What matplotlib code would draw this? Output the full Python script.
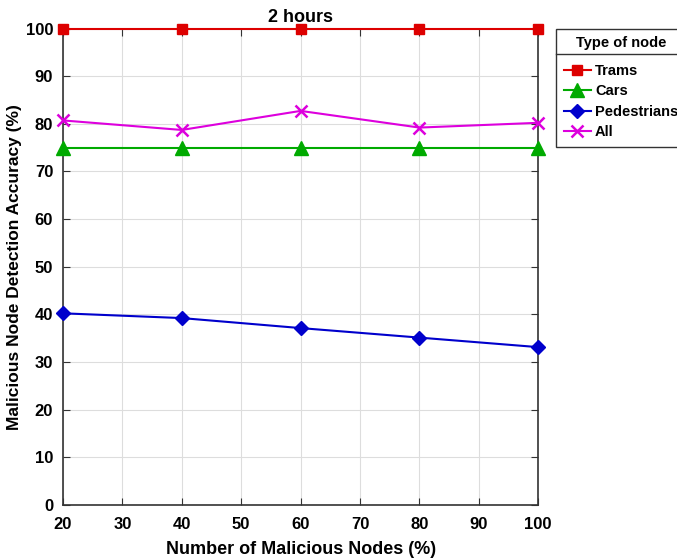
import numpy as np
from matplotlib import pyplot as plt
from matplotlib.lines import Line2D

plt.rcParams['font.family'] = ['Liberation Sans', 'DejaVu Sans']
plt.rcParams['font.weight'] = 'bold'

# data
malicious = [20, 40, 60, 80, 100]
trams = [100, 100, 100, 100, 100]
cars = [75, 75, 75, 75, 75]
pedestrians = [40.2, 39.2, 37.1, 35.1, 33.1]
all_nodes = [80.7, 78.7, 82.7, 79.2, 80.2]

fig = plt.figure(figsize=(6.77, 5.59), dpi=100)
ax = fig.add_axes([0.093, 0.097, 0.702, 0.852])

ax.plot(malicious, trams, '-s', color='#dd0000', lw=1.5, ms=7, label='Trams', clip_on=False, zorder=5)
ax.plot(malicious, cars, '-^', color='#00aa00', lw=1.5, ms=10, label='Cars', clip_on=False, zorder=4)
ax.plot(malicious, pedestrians, '-D', color='#0000cc', lw=1.5, ms=7, label='Pedestrians', clip_on=False, zorder=4)
ax.plot(malicious, all_nodes, '-x', color='#dd00dd', lw=1.5, ms=8, mew=1.8, label='All', clip_on=False, zorder=4)

ax.set_xlim(20, 100)
ax.set_ylim(0, 100)
ax.set_xticks(np.arange(20, 101, 10))
ax.set_yticks(np.arange(0, 101, 10))
ax.grid(True, color='#dddddd', lw=0.8)
ax.tick_params(direction='in', labelsize=12, top=True, right=True, length=5, color='#333333')
ax.tick_params(axis='x', pad=9)
ax.tick_params(axis='y', pad=7)
for s in ax.spines.values():
    s.set_linewidth(1.2)
    s.set_color('#333333')

ax.set_title('2 hours', fontsize=13, fontweight='bold', pad=5)
ax.set_xlabel('Number of Malicious Nodes (%)', fontsize=13, fontweight='bold', labelpad=6)
ax.set_ylabel('Malicious Node Detection Accuracy (%)', fontsize=12.5, fontweight='bold', labelpad=3)

leg = ax.legend(title='Type of node', loc='upper left', bbox_to_anchor=(1.038, 1.0),
                fontsize=10.5, title_fontsize=10.5, fancybox=False, edgecolor='#333333',
                framealpha=1, borderaxespad=0, handlelength=1.9, handletextpad=0.25,
                labelspacing=0.45, borderpad=0.5)
leg.get_title().set_fontweight('bold')
leg._legend_box.sep = 10
leg.get_frame().set_linewidth(1.0)

# divider under the legend title
fig.canvas.draw()
bb = leg.get_window_extent().transformed(fig.transFigure.inverted())
tb = leg.get_title().get_window_extent().transformed(fig.transFigure.inverted())
ydiv = tb.y0 - 0.008
fig.add_artist(Line2D([bb.x0, bb.x1], [ydiv, ydiv], color='#333333', lw=1.0,
                      transform=fig.transFigure))

fig.savefig('out.png', dpi=100)
